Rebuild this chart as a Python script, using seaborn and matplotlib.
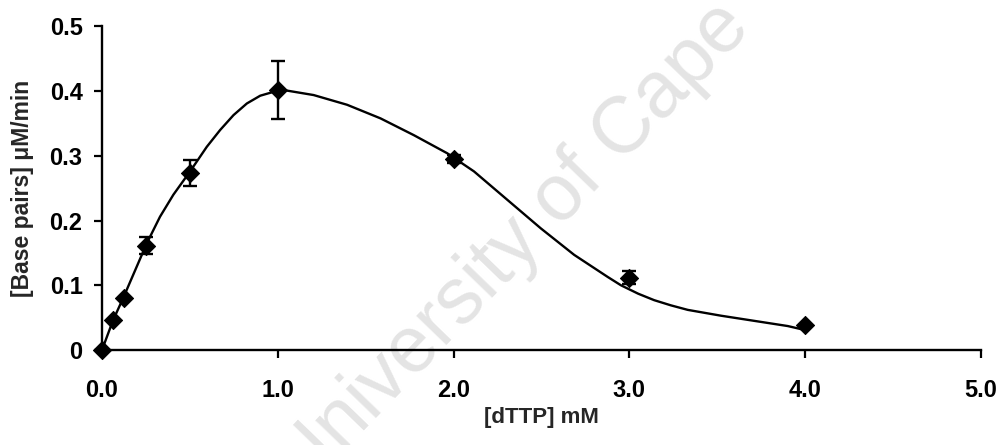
import matplotlib
matplotlib.use("Agg")
import matplotlib.pyplot as plt
import seaborn as sns
import pandas as pd

# measured data points
dttp_mM = [0.0, 0.0625, 0.125, 0.25, 0.5, 1.0, 2.0, 3.0, 4.0]
rate_uM_min = [0.0, 0.046, 0.080, 0.161, 0.274, 0.402, 0.295, 0.112, 0.038]
rate_err = [0.0, 0.0, 0.0, 0.013, 0.020, 0.045, 0.006, 0.010, 0.0]

# fitted curve
curve_x = [0.0, 0.063, 0.12, 0.255, 0.330, 0.406, 0.501, 0.596, 0.672, 0.748,
           0.824, 0.900, 0.976, 1.050, 1.204, 1.394, 1.584, 1.774, 1.964,
           2.116, 2.306, 2.496, 2.686, 2.876, 2.952, 3.050, 3.141, 3.236,
           3.332, 3.521, 3.711, 3.901, 3.996]
curve_y = [0.0, 0.046, 0.080, 0.165, 0.206, 0.240, 0.276, 0.314, 0.340, 0.363,
           0.381, 0.393, 0.399, 0.401, 0.394, 0.379, 0.358, 0.332, 0.304,
           0.276, 0.232, 0.188, 0.147, 0.113, 0.100, 0.087, 0.077, 0.069,
           0.062, 0.053, 0.045, 0.037, 0.031]

x_ticks = [0, 1, 2, 3, 4, 5]
x_labels = ["0.0", "1.0", "2.0", "3.0", "4.0", "5.0"]
y_ticks = [0, 0.1, 0.2, 0.3, 0.4, 0.5]
y_labels = ["0", "0.1", "0.2", "0.3", "0.4", "0.5"]

sns.set_theme(style="ticks")
plt.rcParams["font.family"] = ["Liberation Sans", "DejaVu Sans"]
plt.rcParams["font.weight"] = "bold"

fig = plt.figure(figsize=(10, 4.45), dpi=100)
ax = fig.add_axes([0.102, 0.2135, 0.879, 0.727])

pts = pd.DataFrame({"x": dttp_mM, "y": rate_uM_min, "err": rate_err})
cur = pd.DataFrame({"x": curve_x, "y": curve_y})

sns.lineplot(data=cur, x="x", y="y", ax=ax, color="black", linewidth=1.7,
             sort=True, zorder=3)
ax.errorbar(pts["x"], pts["y"], yerr=pts["err"], fmt="none", ecolor="black",
            elinewidth=1.7, capsize=5, capthick=1.7, zorder=4, clip_on=False)
sns.scatterplot(data=pts, x="x", y="y", ax=ax, marker="D", s=85,
                color="black", edgecolor="black", zorder=5, clip_on=False)

ax.set_xlim(0, 5)
ax.set_ylim(0, 0.5)
ax.set_xticks(x_ticks)
ax.set_xticklabels(x_labels)
ax.set_yticks(y_ticks)
ax.set_yticklabels(y_labels)
ax.tick_params(axis="x", length=6, width=1.6, pad=15, labelsize=17, colors="black")
ax.tick_params(axis="y", length=6, width=1.6, pad=8, labelsize=17, colors="black")
for lab in ax.get_xticklabels() + ax.get_yticklabels():
    lab.set_fontweight("bold")

ax.set_xlabel("[dTTP] mM", fontsize=16, fontweight="bold")
ax.set_ylabel("[Base pairs] μM/min", fontsize=16.5, fontweight="bold")
ax.xaxis.set_label_coords(0.5, -0.21)
ax.xaxis.label.set_va("center")
ax.yaxis.set_label_coords(-0.091, 0.5)
ax.yaxis.label.set_va("center")

for s in ["top", "right"]:
    ax.spines[s].set_visible(False)
for s in ["left", "bottom"]:
    ax.spines[s].set_linewidth(1.7)
    ax.spines[s].set_color("black")

ax.patch.set_alpha(0)
ax.text(0.513, 0.445, "University of Cape", transform=fig.transFigure,
        rotation=46, fontsize=57, color="#e4e4e4", fontweight="normal",
        ha="center", va="center", rotation_mode="anchor", zorder=0,
        clip_on=False)

fig.savefig("out.png", dpi=100)
